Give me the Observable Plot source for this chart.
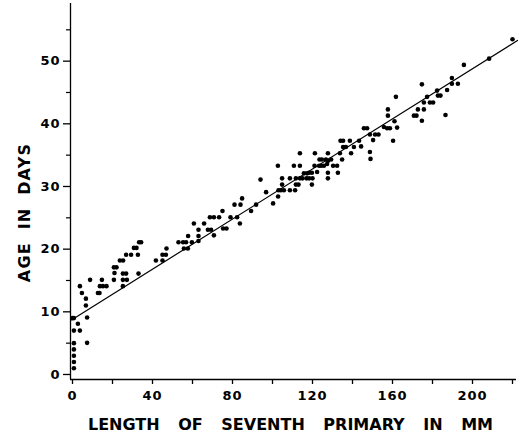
<!DOCTYPE html>
<html><head><meta charset="utf-8">
<script src="https://cdn.jsdelivr.net/npm/d3@7"></script>
<script src="https://cdn.jsdelivr.net/npm/@observablehq/plot@0.6"></script>
<style>
html,body{margin:0;padding:0;background:#fff}
#chart svg{display:block}
</style>
</head><body><div id="chart"></div>
<script>
// Length of seventh primary (mm) and age (days)
const lengthMM = [
  0,0.7,0.7,0.7,0.7,0.7,0.7,0.7,
  2.7,3.7,3.7,4.7,6.7,6.7,7.3,7.3,8.8,
  12.7,13.5,13.7,14.7,15.2,17,
  20.7,22,21,20.7,23.7,25.3,25.2,26.8,25.2,25.2,27.2,26.8,29.3,30.7,32,32.7,33,33.3,34.3,
  41.7,45,45,46.7,47,
  53,55.3,56.8,55.7,57.7,57.8,59.7,60.7,63,63,63,65.8,67.7,69.3,68.7,70.7,70.7,73.3,75,75.3,77,79,81,82.3,83.7,84,84.8,89.3,91.8,94,96.8,
  100.3,102.7,102.8,103,104.2,104.8,104.8,105.7,108.7,108.7,110.7,111.3,111.7,113,111.7,113.7,115,113.7,113.7,115.7,117.3,117,118.3,120,118.3,119.7,119.7,
  121,121.2,122.3,123.3,124.3,123.5,124.7,125.7,126.7,127.8,127.3,127.7,127.7,127.7,129.3,130.3,132.3,132.7,133.7,134,135.3,134.8,135.3,136.7,138.7,139.3,140.7,
  143.3,144.3,145.7,147.3,148.7,148.7,149,150.3,151.3,153,155.7,157.3,158.7,157.7,157.7,160.3,161,161.7,162.3,
  170.7,172,172.7,174.7,174.7,175.7,175.7,177.3,178.7,180.3,182.3,182.7,184,186.5,187.3,189.7,189.7,192.7,195.7,208.3,220
];
const ageDays = [
  9,9,7,5,4,3,2,1,
  8.1,7,14.1,13,12.1,11,9.1,5.05,15.1,
  13,13,14.1,15.1,14.1,14.1,
  17.1,17.1,16.2,15.1,18.2,18.2,16.1,16.1,14.1,15.1,15.1,19.1,19.1,20.2,20.2,19.1,16.1,21.1,21.1,
  18.2,18.2,19.1,19.1,20.1,
  21.1,21.1,21.1,20.1,20.1,22.1,21.1,24.1,21.3,22.1,23.1,24.1,23.1,23.1,25.1,25.1,22.2,25.1,26.1,23.3,23.3,25.1,27.1,25.1,24.1,27.1,28.1,26.1,27.1,31.1,29.1,
  27.3,33.3,28.4,29.4,29.4,31.3,30.3,29.4,29.4,31.3,33.3,29.4,30.3,30.3,31.3,31.3,31.3,35.3,33.3,32.1,32.1,31.3,31.3,31.3,32.2,32.2,30.3,
  33.3,35.3,32.3,33.3,33.3,34.3,34.3,33.3,34.3,34.1,33.6,35.3,32.2,31.3,34.3,33.3,33.3,32.2,35.3,37.3,37.3,34.3,36.3,36.3,37.3,35.3,36.3,
  37.3,36.4,39.3,39.3,38.3,35.5,34.4,37.4,38.3,38.3,39.5,39.3,39.3,42.3,41.3,37.3,40.4,44.3,39.4,
  41.3,41.3,42.3,46.3,40.5,43.4,42.3,44.3,43.4,43.4,45.3,44.5,44.5,41.4,45.4,47.3,46.4,46.4,49.4,50.4,53.5
];
// Fitted line, end points
const fitX = [-0.5, 222.5];
const fitY = [8.7, 53.3];
// Tick values
const xMajorTicks = [0, 40, 80, 120, 160, 200];
const xMinorTicks = [20, 60, 100, 140, 180, 220];
const yMajorTicks = [0, 10, 20, 30, 40, 50];
const yMinorTicks = [5, 15, 25, 35, 45, 55];
const xLabel = "LENGTH OF SEVENTH PRIMARY IN MM";
const yLabel = "AGE IN DAYS";

const points = lengthMM.map((x, i) => ({x, y: ageDays[i]}));
const fit = fitX.map((x, i) => ({x, y: fitY[i]}));
const font = "'DejaVu Sans', 'Liberation Sans', sans-serif";

const chart = Plot.plot({
  width: 523, height: 438,
  marginLeft: 70, marginRight: 7, marginTop: 3, marginBottom: 59,
  x: {domain: [-1, 222]},
  y: {domain: [-0.8, 59.2]},
  style: {fontFamily: font, fontWeight: "bold", fontSize: "13px", color: "#000", background: "#fff"},
  marks: [
    Plot.ruleX([-1], {y1: -0.8, y2: 59.2, stroke: "#000", strokeWidth: 1.3}),
    Plot.ruleY([-0.8], {x1: -1, x2: 222, stroke: "#000", strokeWidth: 1.3}),
    Plot.axisY({ticks: yMajorTicks, tickSize: 7, tickPadding: 3, label: null, fontSize: 13, fontWeight: "bold", strokeWidth: 1.3}),
    Plot.axisY({ticks: yMinorTicks, tickSize: 4, tickFormat: () => "", label: null, strokeWidth: 1.2}),
    Plot.axisX({ticks: xMajorTicks, tickSize: 5, tickPadding: 6, label: null, fontSize: 13, fontWeight: "bold", strokeWidth: 1.3}),
    Plot.axisX({ticks: xMinorTicks, tickSize: 5, tickFormat: () => "", label: null, strokeWidth: 1.3}),
    Plot.line(fit, {x: "x", y: "y", stroke: "#000", strokeWidth: 1.2, clip: false}),
    Plot.dot(points, {x: "x", y: "y", r: 2.3, fill: "#000", stroke: null}),
    Plot.text([xLabel], {text: d => d, frameAnchor: "bottom", lineAnchor: "middle", textAnchor: "middle", dy: 45, dx: -3, fontSize: 16, fontWeight: "bold", fill: "#000"}),
    Plot.text([yLabel], {text: d => d, frameAnchor: "left", lineAnchor: "middle", textAnchor: "middle", dx: -46, dy: 21, rotate: -90, fontSize: 16, fontWeight: "bold", fill: "#000"})
  ]
});
d3.select(chart).selectAll("text").filter(function() { return this.textContent === xLabel; }).style("word-spacing", "13px");
d3.select(chart).selectAll("text").filter(function() { return this.textContent === yLabel; }).style("word-spacing", "6px").style("letter-spacing", "1.2px");
d3.select(chart).selectAll("g[aria-label='y-axis tick label'] text, g[aria-label='x-axis tick label'] text").style("letter-spacing", "1px");
document.getElementById("chart").appendChild(chart);
</script>
</body></html>
